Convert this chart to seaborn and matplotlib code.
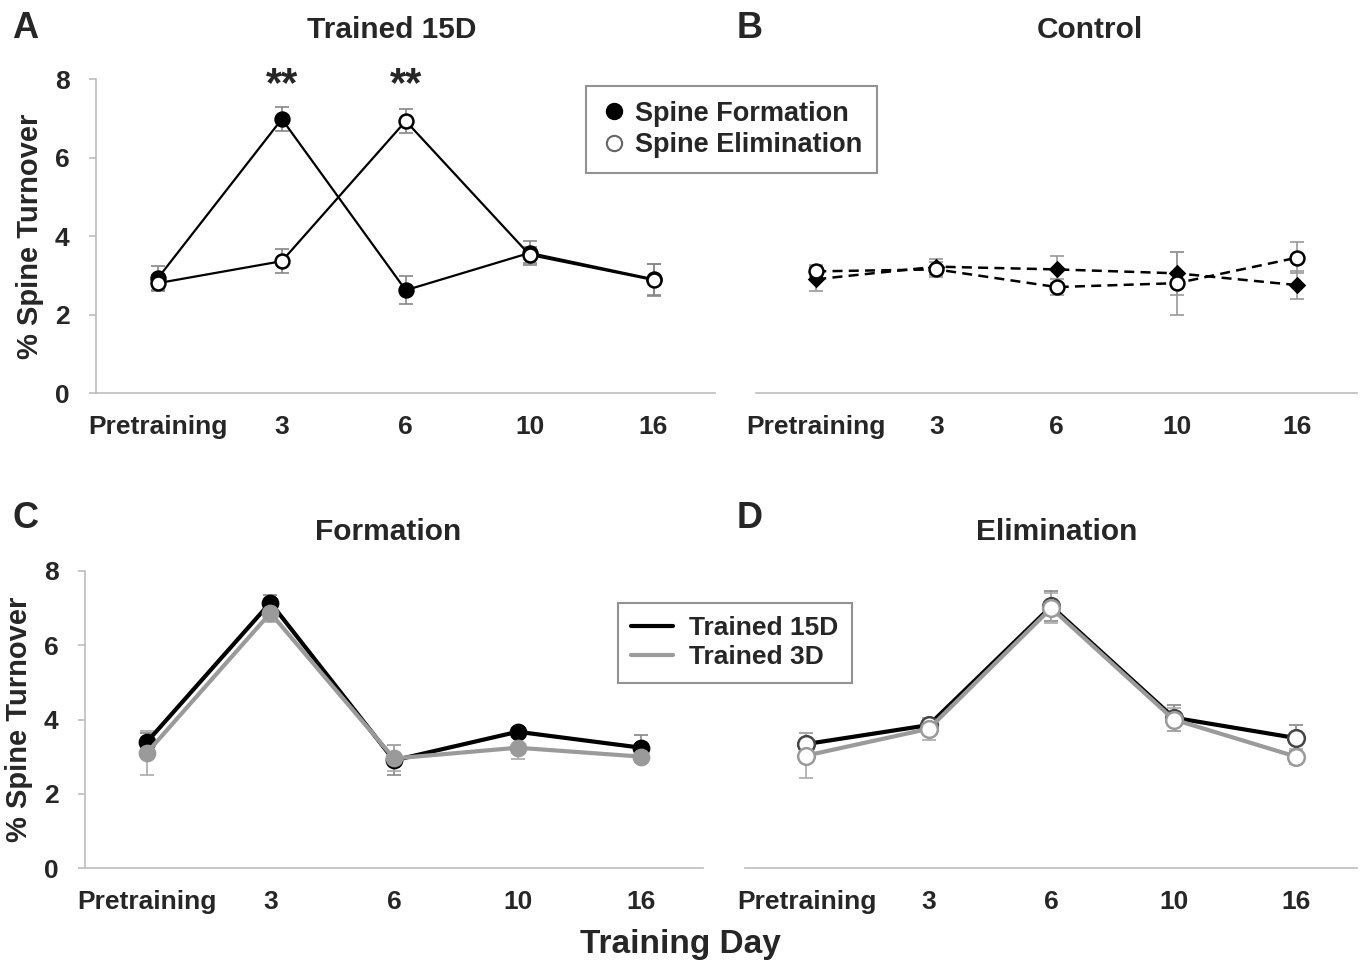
import numpy as np
import pandas as pd
import matplotlib
matplotlib.use("Agg")
import matplotlib.pyplot as plt
from matplotlib.lines import Line2D
import seaborn as sns

days = ["Pretraining", "3", "6", "10", "16"]

# A: Trained 15D
a_form = [2.93, 6.98, 2.62, 3.57, 2.90]
a_form_err = [0.30, 0.30, 0.35, 0.30, 0.40]
a_elim = [2.80, 3.36, 6.93, 3.52, 2.88]
a_elim_err = [0.20, 0.30, 0.30, 0.20, 0.40]

# B: Control
b_form = [2.90, 3.22, 3.15, 3.05, 2.75]
b_form_err = [0.30, 0.20, 0.35, 0.55, 0.35]
b_elim = [3.10, 3.15, 2.70, 2.80, 3.45]
b_elim_err = [0.15, 0.20, 0.20, 0.80, 0.40]

# C: Formation
c_15d = [3.39, 7.15, 2.90, 3.67, 3.24]
c_15d_err = [0.25, 0.20, 0.40, 0.10, 0.35]
c_3d = [3.10, 6.87, 2.95, 3.24, 3.00]
c_3d_err = [0.60, 0.25, 0.35, 0.30, 0.15]

# D: Elimination
d_15d = [3.34, 3.85, 7.05, 4.05, 3.50]
d_15d_err = [0.30, 0.15, 0.40, 0.35, 0.35]
d_3d = [3.03, 3.75, 7.00, 4.00, 3.00]
d_3d_err = [0.60, 0.30, 0.40, 0.30, 0.20]

sns.set_style("white")
plt.rcParams["font.family"] = ["Liberation Sans", "DejaVu Sans"]
plt.rcParams["font.weight"] = "bold"

GREY_AX = "#bdbdbd"
GREY_LINE = "#9a9a9a"
TICK_FS = 19

fig = plt.figure(figsize=(13.6, 9.65), dpi=100)
axA = fig.add_axes([0.0706, 0.5927, 0.4555, 0.3254])
axB = fig.add_axes([0.556, 0.5927, 0.442, 0.3254])
axC = fig.add_axes([0.0625, 0.1005, 0.4544, 0.3078])
axD = fig.add_axes([0.548, 0.1005, 0.450, 0.3078])


def draw(ax, vals, errs, color, ls="-", lw=1.5, marker="o", ms=10, mfc=None, mec=None, ecolor="#777777"):
    df = pd.DataFrame({"pos": np.arange(len(days)), "val": vals})
    ax.errorbar(df["pos"], df["val"], yerr=errs, fmt="none", ecolor=ecolor,
                elinewidth=1.2, capsize=5, capthick=1.2, zorder=2)
    sns.lineplot(data=df, x="pos", y="val", ax=ax, color=color, linestyle=ls,
                 linewidth=lw, marker=marker, markersize=ms,
                 markerfacecolor=mfc if mfc else color,
                 markeredgecolor=mec if mec else color, markeredgewidth=1.8,
                 zorder=3)


def style(ax, show_y):
    ax.set_xlim(-0.5, len(days) - 0.5)
    ax.set_ylim(0, 8)
    ax.set_xticks(range(len(days)))
    ax.set_xticklabels(days, fontsize=TICK_FS, fontweight="bold")
    ax.set_xticks(np.arange(-0.5, len(days)), minor=True)
    ax.tick_params(axis="x", which="major", length=0, pad=16)
    ax.tick_params(axis="x", which="minor", length=6, color=GREY_AX, width=1.2, direction="out")
    ax.set_xlabel("")
    ax.set_ylabel("")
    for s in ["top", "right"]:
        ax.spines[s].set_visible(False)
    ax.spines["bottom"].set_color(GREY_AX)
    ax.spines["bottom"].set_linewidth(1.2)
    if show_y:
        ax.spines["left"].set_color(GREY_AX)
        ax.spines["left"].set_linewidth(1.2)
        ax.set_yticks([0, 2, 4, 6, 8])
        ax.set_yticklabels(["0", "2", "4", "6", "8"], fontsize=TICK_FS, fontweight="bold")
        ax.tick_params(axis="y", length=5, color=GREY_AX, width=1.2, pad=14, left=True)
        ax.set_ylabel("% Spine Turnover", fontsize=21, fontweight="bold", labelpad=8)
    else:
        ax.spines["left"].set_visible(False)
        ax.set_yticks([])


# Panel A
draw(axA, a_form, a_form_err, "black", lw=1.6, ms=10, ecolor="#888888")
draw(axA, a_elim, a_elim_err, "black", lw=1.6, ms=10, mfc="white", ecolor="#888888")
style(axA, True)
for i in [1, 2]:
    axA.text(i, 7.85, "**", ha="center", va="center", fontsize=30, fontweight="bold")

# Panel B
draw(axB, b_form, b_form_err, "black", ls=(0, (4, 2.5)), lw=1.8, marker="D", ms=7, ecolor="#999999")
draw(axB, b_elim, b_elim_err, "black", ls=(0, (4, 2.5)), lw=1.8, ms=10, mfc="white", ecolor="#999999")
style(axB, False)

# Panel C
draw(axC, c_15d, c_15d_err, "black", lw=3, ms=11, ecolor="#888888")
draw(axC, c_3d, c_3d_err, GREY_LINE, lw=3, ms=11, ecolor="#aaaaaa")
style(axC, True)

# Panel D
draw(axD, d_15d, d_15d_err, "black", lw=3, ms=12, mfc="white", mec="#444444", ecolor="#888888")
draw(axD, d_3d, d_3d_err, GREY_LINE, lw=3, ms=12, mfc="white", mec=GREY_LINE, ecolor="#aaaaaa")
style(axD, False)

# titles and panel letters
fig.text(392 / 1360, 1 - 30 / 965, "Trained 15D", ha="center", va="center", fontsize=21.5, fontweight="bold")
fig.text(1090 / 1360, 1 - 30 / 965, "Control", ha="center", va="center", fontsize=21.5, fontweight="bold")
fig.text(388 / 1360, 1 - 532 / 965, "Formation", ha="center", va="center", fontsize=21.5, fontweight="bold")
fig.text(1057 / 1360, 1 - 532 / 965, "Elimination", ha="center", va="center", fontsize=21.5, fontweight="bold")
for lab, x, y in [("A", 25, 28), ("B", 750, 28), ("C", 25, 518), ("D", 750, 518)]:
    fig.text(x / 1360, 1 - y / 965, lab, ha="center", va="center", fontsize=26, fontweight="bold")
fig.text(680 / 1360, 1 - 945 / 965, "Training Day", ha="center", va="center", fontsize=24, fontweight="bold")

# legends
h1 = [Line2D([], [], color="black", marker="o", linestyle="none", markersize=11,
             markerfacecolor="black", markeredgewidth=1.5),
      Line2D([], [], color="#666666", marker="o", linestyle="none", markersize=11,
             markerfacecolor="white", markeredgewidth=1.5)]
leg1 = fig.legend(h1, ["Spine Formation", "Spine Elimination"], loc="upper left",
                  bbox_to_anchor=(586 / 1360, 1 - 86 / 965), borderaxespad=0,
                  fancybox=False, edgecolor="#777777", handletextpad=0.25,
                  handlelength=1.0, labelspacing=0.2, borderpad=0.55,
                  prop={"weight": "bold", "size": 19.5})
leg1.get_frame().set_linewidth(1.5)

h2 = [Line2D([], [], color="black", linewidth=3),
      Line2D([], [], color=GREY_LINE, linewidth=3)]
leg2 = fig.legend(h2, ["Trained 15D", "Trained 3D"], loc="upper left",
                  bbox_to_anchor=(618 / 1360, 1 - 603 / 965), borderaxespad=0,
                  fancybox=False, edgecolor="#777777", handletextpad=0.6,
                  handlelength=1.6, labelspacing=0.2, borderpad=0.5,
                  prop={"weight": "bold", "size": 19})
leg2.get_frame().set_linewidth(1.5)

fig.savefig("out.png", dpi=100)
